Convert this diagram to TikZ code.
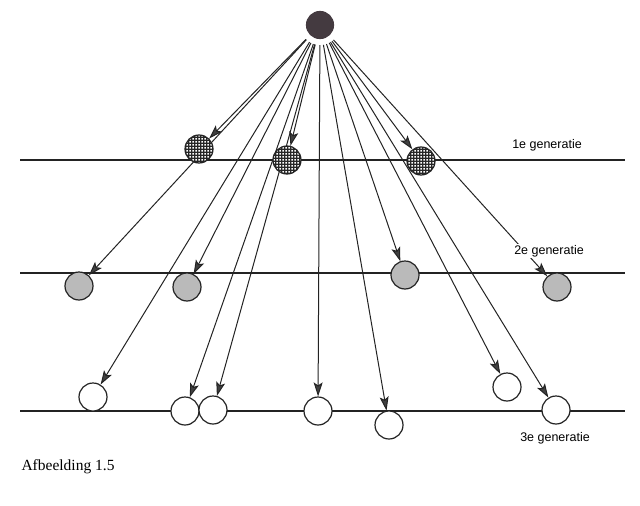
\documentclass[tikz,border=0pt]{standalone}
\usepackage{fontspec}
\setmainfont{Liberation Serif}
\newfontfamily\labfont{Liberation Sans}
\usetikzlibrary{arrows.meta,patterns}
\pgfdeclarelayer{back}
\pgfsetlayers{back,main}
\pgfdeclarepatternformonly{wsq}{\pgfqpoint{0pt}{0pt}}{\pgfqpoint{3pt}{3pt}}{\pgfqpoint{3pt}{3pt}}{\pgfpathrectangle{\pgfqpoint{0.6pt}{0.6pt}}{\pgfqpoint{1.8pt}{1.8pt}}\pgfusepath{fill}}
\definecolor{topc}{RGB}{68,58,64}
\definecolor{inkc}{RGB}{35,35,35}
\begin{document}
\begin{tikzpicture}[x=1pt,y=-1pt,
  ball/.style={circle,draw=inkc,line width=1.2pt,minimum size=28pt,inner sep=0pt},
  srcball/.style={ball,fill=topc,draw=topc,minimum size=27pt},
  gena/.style={ball,preaction={fill=black!85},pattern=wsq,pattern color=white},
  genb/.style={ball,fill=black!27},
  genc/.style={ball,fill=white},
  conn/.style={draw=inkc,line width=1pt,-{Stealth[length=14pt,width=9pt,inset=3pt,fill=black!75]},shorten <=6pt},
  hline/.style={draw=inkc,line width=1.2pt},
  lab/.style={font=\labfont\fontsize{12.5}{14}\selectfont,inner sep=1pt}]
\useasboundingbox (0,0) rectangle (640,506);
% source
\node[srcball] (top) at (320,25) {};
% first generation
\node[gena] (a) at (199,149) {};
\node[gena] (b) at (287,160) {};
\node[gena] (c) at (421,161) {};
% second generation
\node[genb] (d) at (79,286) {};
\node[genb] (e) at (187,287) {};
\node[genb] (f) at (405,275) {};
\node[genb] (g) at (557,287) {};
% third generation
\node[genc] (h) at (93,397) {};
\node[genc] (i) at (185,411) {};
\node[genc] (j) at (213,410) {};
\node[genc] (k) at (318,411) {};
\node[genc] (l) at (389,425) {};
\node[genc] (m) at (507,387) {};
\node[genc] (n) at (556,410) {};
% labels
\node[lab] (l1) at (547,145) {1e generatie};
\node[lab,fill=white] (l2) at (549,251) {2e generatie};
\node[lab] (l3) at (555,438) {3e generatie};
\node[font=\fontsize{15.5}{18}\selectfont,anchor=west] (cap) at (18,467) {Afbeelding 1.5};
% generation lines
\coordinate (p1) at (20,160); \coordinate (q1) at (625,160);
\coordinate (p2) at (20,273); \coordinate (q2) at (625,273);
\coordinate (p3) at (20,411); \coordinate (q3) at (625,411);
\begin{pgfonlayer}{back}
\draw[hline] (p1) -- (q1);
\draw[hline] (p2) -- (q2);
\draw[hline] (p3) -- (q3);
\foreach \t in {a,b,c,d,e,f,g,h,i,j,k,l,m,n}
  \draw[conn] (top) -- (\t);
\end{pgfonlayer}
\end{tikzpicture}
\end{document}
